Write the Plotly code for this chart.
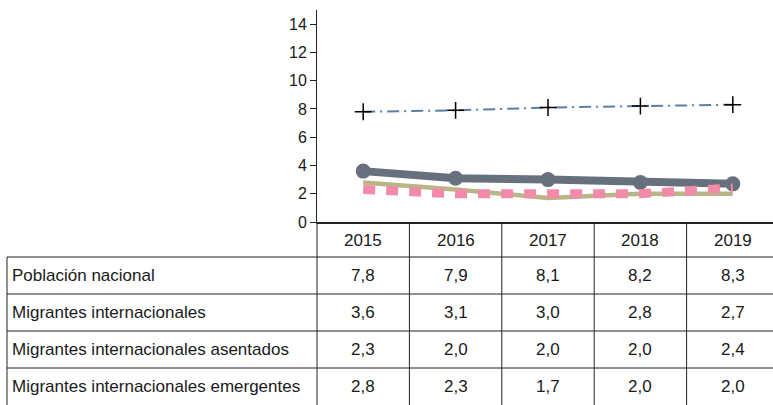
import plotly.graph_objects as go

years = ["2015", "2016", "2017", "2018", "2019"]
series_names = [
    "Población nacional",
    "Migrantes internacionales",
    "Migrantes internacionales asentados",
    "Migrantes internacionales emergentes",
]
poblacion_nacional = [7.8, 7.9, 8.1, 8.2, 8.3]
migrantes_int = [3.6, 3.1, 3.0, 2.8, 2.7]
migrantes_asentados = [2.3, 2.0, 2.0, 2.0, 2.4]
migrantes_emergentes = [2.8, 2.3, 1.7, 2.0, 2.0]
y_ticks = [0, 2, 4, 6, 8, 10, 12, 14]

all_values = [poblacion_nacional, migrantes_int, migrantes_asentados, migrantes_emergentes]

W, H = 773, 405
L, R, T, B = 317, 773, 10, 222  # plot area in pixels
FONT = "Liberation Sans, Arial, sans-serif"
TXT = "#1a1a1a"
TFS = 17


def py(p):
    return (B - p) / (B - T)


def px(p):
    return (p - L) / (R - L)


fig = go.Figure()
x = list(range(len(years)))

fig.add_trace(go.Scatter(
    x=x, y=poblacion_nacional, mode="lines+markers", name=series_names[0],
    line=dict(color="#5a7fa2", width=2, dash="12px,5px,2px,5px"),
    marker=dict(symbol="cross-thin", size=12, color="black",
                line=dict(color="black", width=1.5)),
))
fig.add_trace(go.Scatter(
    x=x, y=migrantes_int, mode="lines+markers", name=series_names[1],
    line=dict(color="#67717d", width=8),
    marker=dict(symbol="circle", size=15, color="#67717d"),
))
fig.add_trace(go.Scatter(
    x=x, y=migrantes_emergentes, mode="lines", name=series_names[3],
    line=dict(color="#b8b686", width=4.5),
))
fig.add_trace(go.Scatter(
    x=x, y=migrantes_asentados, mode="lines", name=series_names[2],
    line=dict(color="#f28aa9", width=9, dash="12px,11px"),
))

col_w = (R - L) / 4.935
shapes = []
annotations = []
line_style = dict(color="#222222", width=1)

row_tops = [222, 257, 294, 331, 368, 405]

for b in [0.5, 1.5, 2.5, 3.5]:
    shapes.append(dict(type="line", xref="x", yref="paper", x0=b, x1=b,
                       y0=py(B), y1=py(H), line=line_style, layer="above"))
shapes.append(dict(type="line", xref="paper", yref="paper", x0=0, x1=0,
                   y0=py(B), y1=py(H), line=line_style))
shapes.append(dict(type="line", xref="paper", yref="paper", x0=px(7), x1=px(7),
                   y0=py(257), y1=py(H), line=line_style))
for yy in row_tops[1:5]:
    shapes.append(dict(type="line", xref="paper", yref="paper", x0=px(7), x1=1,
                       y0=py(yy), y1=py(yy), line=line_style))

for i, yr in enumerate(years):
    annotations.append(dict(xref="x", yref="paper", x=i, y=py(240), text=yr,
                            showarrow=False, xanchor="center", yanchor="middle",
                            font=dict(family=FONT, size=TFS, color=TXT)))
for r, (name, vals) in enumerate(zip(series_names, all_values)):
    yc = (row_tops[r + 1] + row_tops[r + 2]) / 2
    annotations.append(dict(xref="paper", yref="paper", x=px(10), y=py(yc), text=name,
                            showarrow=False, xanchor="left", yanchor="middle",
                            font=dict(family=FONT, size=TFS, color=TXT)))
    for i, v in enumerate(vals):
        annotations.append(dict(xref="x", yref="paper", x=i, y=py(yc),
                                text=f"{v:.1f}".replace(".", ","),
                                showarrow=False, xanchor="center", yanchor="middle",
                                font=dict(family=FONT, size=TFS, color=TXT)))

fig.update_layout(
    width=W, height=H,
    margin=dict(l=L, r=W - R, t=T, b=H - B, pad=0),
    paper_bgcolor="white", plot_bgcolor="white",
    showlegend=False,
    shapes=shapes, annotations=annotations,
    font=dict(family=FONT, color=TXT),
)
fig.update_xaxes(range=[-0.5, -0.5 + (R - L) / col_w], showticklabels=False,
                 showgrid=False, zeroline=False, showline=True,
                 linecolor="#222222", linewidth=2, ticks="")
fig.update_yaxes(range=[0, 15], tickvals=y_ticks, showgrid=False, zeroline=False,
                 showline=True, linecolor="#222222", linewidth=1,
                 ticks="outside", ticklen=6, tickcolor="#222222",
                 tickfont=dict(family=FONT, size=16, color=TXT))

fig.write_html("out.html", config={"displayModeBar": False},
               post_script="document.body.style.margin='0';document.body.style.overflow='hidden';")
